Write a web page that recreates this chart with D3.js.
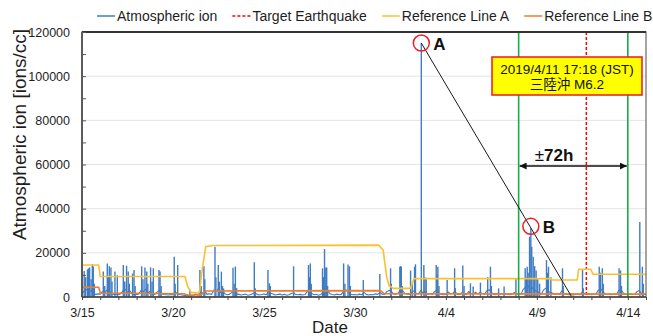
<!DOCTYPE html>
<html>
<head>
<meta charset="utf-8">
<script src="https://cdn.jsdelivr.net/npm/d3@7/dist/d3.min.js"></script>
<style>
  html, body { margin: 0; padding: 0; background: #fff; }
  svg { display: block; font-family: "Liberation Sans", Arial, sans-serif; }
</style>
</head>
<body>
<svg id="chart" width="653" height="336"></svg>
<script>
// Atmospheric ion record, 2019/3/15 - 4/15, with the 4/11 Sanriku-oki M6.2 marker.
// Time is in days since 3/15 00:00 JST.

const xTickDays = [0, 5, 10, 15, 20, 25, 30];
const xTickLabels = ['3/15', '3/20', '3/25', '3/30', '4/4', '4/9', '4/14'];
const yTicks = [0, 20000, 40000, 60000, 80000, 100000, 120000];

// background level, one reading every 3 hours (8 per day)
const ION_BASE_STEP = 0.125;
const ionBase = [
  1800, 2600, 3400, 2200, 3000, 1500, 1200, 1400,
  1300, 2400, 1800, 3200, 2500, 1600, 1100, 1300,
  1000, 1500, 2800, 3500, 2200, 2900, 1400, 1200,
  1100, 1400, 3000, 2400, 3600, 1800, 2600, 1300,
  1200, 2200, 3100, 1500, 1100, 1000, 900, 1100,
  1000, 2400, 1300, 1100, 900, 700, 800, 600,
  500, 700, 1400, 900, 2300, 1600, 2800, 1200,
  1500, 1200, 3200, 2600, 3800, 1900, 2400, 1400,
  1000, 1300, 2200, 3000, 1400, 1200, 900, 1100,
  1300, 800, 1000, 1500, 2000, 1200, 900, 1100,
  1400, 1000, 2500, 1800, 1300, 900, 1100, 1300,
  900, 1200, 800, 1000, 1600, 1900, 1100, 1000,
  1200, 900, 1100, 2400, 3000, 1600, 1000, 1200,
  800, 1100, 2200, 3600, 2800, 1500, 1100, 900,
  1300, 1000, 1200, 2500, 3200, 2700, 1400, 1000,
  1100, 900, 1300, 1000, 2100, 1200, 900, 1100,
  1000, 1400, 1200, 2000, 1300, 1100, 2400, 3000,
  2600, 1400, 1200, 1800, 3200, 2900, 1600, 1300,
  1200, 2200, 2800, 1500, 1400, 3000, 1800, 2600,
  1300, 1500, 1100, 2400, 3100, 1700, 1200, 1000,
  1100, 2300, 1400, 1600, 2600, 1200, 1100, 1900,
  1300, 1000, 2500, 1700, 1200, 2200, 1400, 2000,
  1600, 1200, 2800, 3300, 2100, 1200, 1000, 1800,
  1200, 1600, 1100, 1400, 1000, 1300, 2000, 1500,
  1100, 1300, 3400, 4500, 5200, 3800, 4200, 3000,
  2600, 1800, 1500, 3200, 4000, 2400, 2200, 1700,
  1200, 1500, 1100, 2800, 1600, 1300, 1000, 1200,
  900, 1100, 1400, 1000, 2200, 1600, 1200, 1300,
  1000, 1200, 1500, 3000, 3800, 2600, 1400, 1100,
  1200, 1000, 1300, 1100, 2900, 3400, 1800, 1200,
  1000, 1400, 1200, 1100, 2400, 3000, 1600, 1300,
  1200
];

// short bursts [day, peak ions/cc]
const ionSpikes = [
  [0.12, 11800], [0.2, 9000], [0.3, 12500], [0.36, 13000], [0.42, 13400], [0.5, 8000],
  [0.57, 14800], [0.62, 13800], [0.68, 6000],
  [1.17, 11500], [1.25, 5000], [1.39, 15200], [1.45, 9000], [1.5, 13900], [1.59, 13400], [1.65, 7000],
  [1.81, 11500], [1.94, 9800],
  [2.27, 14500], [2.35, 7000], [2.45, 14200], [2.54, 11500], [2.6, 6000],
  [2.78, 10600], [2.86, 12200], [2.92, 5000],
  [3.28, 13900], [3.35, 8000], [3.46, 13400], [3.56, 11500], [3.62, 6000],
  [3.77, 13400], [3.85, 7000], [3.92, 13000],
  [4.23, 12200], [4.29, 11500], [4.35, 5000],
  [5.07, 18200], [5.12, 6000], [5.26, 14500], [5.93, 3200],
  [6.48, 12200], [6.55, 5000], [6.7, 13900], [6.75, 8000],
  [7.31, 22800], [7.36, 9000], [7.49, 14500], [7.55, 7000], [7.66, 11500], [7.72, 5000], [7.78, 3900],
  [8.3, 13300], [8.36, 6000], [8.43, 13800], [8.5, 4000],
  [9.47, 15700], [9.52, 4000],
  [10.22, 12200], [10.3, 6200], [10.35, 5000],
  [11.63, 13900],
  [12.45, 14500], [12.5, 9000], [12.55, 15200], [12.6, 6000],
  [13.22, 13000], [13.27, 9000], [13.33, 21700], [13.4, 13400], [13.45, 13400], [13.5, 5000],
  [14.38, 15200], [14.45, 6000], [14.62, 14700], [14.7, 13900], [14.75, 5000],
  [15.46, 7700], [16.37, 10400],
  [16.96, 13000], [17.0, 6000],
  [17.47, 13700], [17.51, 14000], [17.55, 13700], [17.6, 5000],
  [18.06, 12000], [18.15, 6000], [18.28, 13700], [18.33, 14800],
  [18.65, 115000],
  [18.79, 14500], [18.85, 9000], [18.92, 8000],
  [19.47, 14500], [19.52, 10000], [19.56, 13700], [19.62, 5000],
  [20.07, 7700], [20.48, 13000], [20.52, 4000], [20.93, 14300], [21.0, 5000],
  [21.35, 6200], [21.5, 4700], [21.9, 6500],
  [22.3, 9000], [22.45, 13700], [22.5, 5000], [22.9, 3900], [23.2, 4700],
  [23.85, 8400],
  [24.36, 13000], [24.42, 9000], [24.47, 13700], [24.52, 11000], [24.6, 27300], [24.67, 31100],
  [24.72, 22800], [24.8, 18200], [24.88, 14000], [24.96, 12000], [25.05, 8000], [25.15, 6000],
  [25.53, 16700], [25.58, 11000], [25.64, 13700], [25.77, 9000],
  [26.41, 13000], [26.45, 5000],
  [27.51, 12200], [27.55, 4000],
  [28.43, 13700], [28.5, 11000], [28.6, 13000], [28.65, 6000],
  [29.52, 13000], [29.6, 12000], [29.65, 5000],
  [30.66, 34000], [30.8, 13700], [30.85, 6000]
];

const refLineA = [
  [0, 14500], [0.92, 14500], [1.0, 9300], [5.66, 9300], [5.8, 5000], [6.0, 2000], [6.45, 2000],
  [6.6, 12000], [6.8, 22800], [7.2, 23300], [16.3, 23500], [16.55, 21300], [16.75, 9000],
  [16.87, 5200], [17.1, 3900], [18.05, 3900], [18.25, 8300], [25.75, 8300], [25.85, 7700],
  [27.22, 7700], [27.3, 12600], [27.95, 12600], [28.1, 10300], [31, 10300]
];

const refLineB = [
  [0, 4400], [0.92, 4400], [1.0, 1800], [5.6, 1500], [5.8, 900], [6.55, 900], [6.75, 2700],
  [16.4, 2900], [16.6, 1500], [31, 1300]
];

const quakeDay = 27 + (17 + 18 / 60) / 24;   // 2019/4/11 17:18 JST
const windowDays = [24, 30];                  // ±72h window as drawn
const pointA = [18.65, 115000];
const pointB = [24.67, 32000];
const trendEnd = [26.92, 0];

const COLORS = {
  ion: '#3f7cc2',
  quake: '#ff0000',
  refA: '#fbc02d',
  refB: '#ed7d31',
  window: '#1aab4b',
  text: '#1e1e1e',
};

const svg = d3.select('#chart');
const plot = { left: 82, right: 646, top: 32, bottom: 297 };

const x = d3.scaleLinear().domain([0, 31]).range([plot.left, plot.right]);
const y = d3.scaleLinear().domain([0, 120000]).range([plot.bottom, plot.top]);

// gridlines
svg.append('g').selectAll('line')
  .data(yTicks.slice(1))
  .enter().append('line')
  .attr('x1', plot.left).attr('x2', plot.right)
  .attr('y1', (d) => y(d)).attr('y2', (d) => y(d))
  .attr('stroke', '#e4e4e4').attr('stroke-width', 1);

const clipId = 'plot-clip';
svg.append('defs').append('clipPath').attr('id', clipId)
  .append('rect')
  .attr('x', plot.left).attr('y', plot.top)
  .attr('width', plot.right - plot.left).attr('height', plot.bottom - plot.top);

const dataG = svg.append('g').attr('clip-path', `url(#${clipId})`);

// ion series: background trace + burst spikes
const basePts = ionBase.map((v, i) => [i * ION_BASE_STEP, v]);
const line = d3.line().x((d) => x(d[0])).y((d) => y(d[1]));

dataG.append('path')
  .datum(basePts)
  .attr('d', line)
  .attr('fill', 'none')
  .attr('stroke', COLORS.ion)
  .attr('stroke-width', 1.1)
  .attr('stroke-linejoin', 'round');

dataG.append('g').selectAll('line')
  .data(ionSpikes)
  .enter().append('line')
  .attr('x1', (d) => x(d[0])).attr('x2', (d) => x(d[0]))
  .attr('y1', y(0)).attr('y2', (d) => y(d[1]))
  .attr('stroke', COLORS.ion)
  .attr('stroke-width', 1.4);

// target earthquake + window
dataG.append('line')
  .attr('x1', x(quakeDay)).attr('x2', x(quakeDay))
  .attr('y1', plot.top).attr('y2', plot.bottom)
  .attr('stroke', COLORS.quake).attr('stroke-width', 1.5)
  .attr('stroke-dasharray', '3,2');

dataG.append('path')
  .datum(refLineA)
  .attr('d', line)
  .attr('fill', 'none')
  .attr('stroke', COLORS.refA)
  .attr('stroke-width', 1.6)
  .attr('stroke-linejoin', 'round');

dataG.append('path')
  .datum(refLineB)
  .attr('d', line)
  .attr('fill', 'none')
  .attr('stroke', COLORS.refB)
  .attr('stroke-width', 1.6)
  .attr('stroke-linejoin', 'round');

dataG.append('g').selectAll('line')
  .data(windowDays)
  .enter().append('line')
  .attr('x1', (d) => x(d)).attr('x2', (d) => x(d))
  .attr('y1', plot.top).attr('y2', plot.bottom)
  .attr('stroke', COLORS.window).attr('stroke-width', 1.6);

// trend line A -> B -> zero
dataG.append('line')
  .attr('x1', x(pointA[0])).attr('y1', y(pointA[1]))
  .attr('x2', x(trendEnd[0])).attr('y2', y(trendEnd[1]))
  .attr('stroke', '#1a1a1a').attr('stroke-width', 1);

// frame and axes
svg.append('rect')
  .attr('x', plot.left).attr('y', plot.top)
  .attr('width', plot.right - plot.left).attr('height', plot.bottom - plot.top)
  .attr('fill', 'none').attr('stroke', '#6a6a6a').attr('stroke-width', 1.2);
svg.append('line')
  .attr('x1', plot.left).attr('x2', plot.right).attr('y1', plot.top).attr('y2', plot.top)
  .attr('stroke', '#333').attr('stroke-width', 2);
svg.append('line')
  .attr('x1', plot.left).attr('x2', plot.left).attr('y1', plot.top).attr('y2', plot.bottom)
  .attr('stroke', '#444').attr('stroke-width', 1.5);
svg.append('line')
  .attr('x1', plot.left).attr('x2', plot.right).attr('y1', plot.bottom).attr('y2', plot.bottom)
  .attr('stroke', '#444').attr('stroke-width', 1.5);

// y axis: minor ticks every 10000 pointing in, labels on the majors
const yAxis = d3.axisLeft(y)
  .tickValues(d3.range(0, 120001, 10000))
  .tickSize(-4)
  .tickPadding(12)
  .tickFormat((d) => (yTicks.includes(d) ? String(d) : ''));
const yG = svg.append('g').attr('transform', `translate(${plot.left},0)`).call(yAxis);
yG.select('.domain').remove();
yG.selectAll('.tick line').attr('stroke', '#555');
yG.selectAll('.tick text')
  .attr('font-size', 12.5).attr('fill', COLORS.text)
  .attr('font-family', '"Liberation Sans", Arial, sans-serif');

// x axis: daily ticks, labels every 5 days
const xAxis = d3.axisBottom(x)
  .tickValues(d3.range(0, 32, 1))
  .tickSize(3)
  .tickPadding(8)
  .tickFormat((d) => {
    const i = xTickDays.indexOf(d);
    return i >= 0 ? xTickLabels[i] : '';
  });
const xG = svg.append('g').attr('transform', `translate(0,${plot.bottom})`).call(xAxis);
xG.select('.domain').remove();
xG.selectAll('.tick line').attr('stroke', '#444');
xG.selectAll('.tick text')
  .attr('font-size', 12.5).attr('fill', COLORS.text)
  .attr('font-family', '"Liberation Sans", Arial, sans-serif');

// axis titles
svg.append('text')
  .attr('transform', `translate(26,${(plot.top + plot.bottom) / 2 - 30}) rotate(-90)`)
  .attr('text-anchor', 'middle')
  .attr('font-size', 19)
  .attr('fill', COLORS.text)
  .text('Atmospheric ion [ions/cc]');

svg.append('text')
  .attr('x', 330).attr('y', 333)
  .attr('text-anchor', 'middle')
  .attr('font-size', 17)
  .attr('fill', COLORS.text)
  .text('Date');

// legend
const legendItems = [
  { label: 'Atmospheric ion', color: COLORS.ion, dash: null },
  { label: 'Target Earthquake', color: COLORS.quake, dash: '3,2' },
  { label: 'Reference Line A', color: COLORS.refA, dash: null },
  { label: 'Reference Line B', color: COLORS.refB, dash: null },
];
const legend = svg.append('g').attr('transform', 'translate(97,16)');
let lx = 0;
legendItems.forEach((item) => {
  legend.append('line')
    .attr('x1', lx).attr('x2', lx + 18).attr('y1', 0).attr('y2', 0)
    .attr('stroke', item.color).attr('stroke-width', 1.5)
    .attr('stroke-dasharray', item.dash);
  const t = legend.append('text')
    .attr('x', lx + 20).attr('y', 5)
    .attr('font-size', 14)
    .attr('fill', COLORS.text)
    .text(item.label);
  lx += 20 + t.node().getComputedTextLength() + 15;
});

// markers A / B
const markers = [
  { p: pointA, label: 'A' },
  { p: pointB, label: 'B' },
];
markers.forEach((m) => {
  svg.append('circle')
    .attr('cx', x(m.p[0])).attr('cy', y(m.p[1]))
    .attr('r', 8)
    .attr('fill', 'none').attr('stroke', '#e8202a').attr('stroke-width', 1.5);
  svg.append('text')
    .attr('x', x(m.p[0]) + 12).attr('y', y(m.p[1]) + 7)
    .attr('font-size', 17).attr('font-weight', 'bold')
    .attr('fill', '#111')
    .text(m.label);
});

// ±72h arrow between the window lines
const arrowY = 166;
const defs = svg.select('defs');
['start', 'end'].forEach((k) => {
  defs.append('marker')
    .attr('id', 'arrow-' + k)
    .attr('viewBox', '0 0 10 10')
    .attr('refX', k === 'end' ? 10 : 0).attr('refY', 5)
    .attr('markerWidth', 7).attr('markerHeight', 7)
    .attr('markerUnits', 'userSpaceOnUse')
    .attr('orient', 'auto')
    .append('path')
    .attr('d', k === 'end' ? 'M0,0 L10,5 L0,10 z' : 'M10,0 L0,5 L10,10 z')
    .attr('fill', '#111');
});
svg.append('line')
  .attr('x1', x(windowDays[0]) + 1).attr('x2', x(windowDays[1]) - 1)
  .attr('y1', arrowY).attr('y2', arrowY)
  .attr('stroke', '#111').attr('stroke-width', 1.5)
  .attr('marker-start', 'url(#arrow-start)')
  .attr('marker-end', 'url(#arrow-end)');
const arrowText = svg.append('text')
  .attr('x', 554).attr('y', 161)
  .attr('text-anchor', 'middle')
  .attr('font-size', 17)
  .attr('fill', '#111');
arrowText.append('tspan').attr('font-weight', 'normal').text('±');
arrowText.append('tspan').attr('font-weight', 'bold').text('72h');

// event callout
const box = { x: 492, y: 57, w: 150, h: 38 };
svg.append('rect')
  .attr('x', box.x).attr('y', box.y).attr('width', box.w).attr('height', box.h)
  .attr('fill', '#ffff00').attr('stroke', '#f01818').attr('stroke-width', 1.5);
svg.append('text')
  .attr('x', box.x + box.w / 2).attr('y', box.y + 17)
  .attr('text-anchor', 'middle').attr('font-size', 13.5).attr('fill', '#111')
  .text('2019/4/11 17:18 (JST)');
svg.append('text')
  .attr('x', box.x + box.w / 2).attr('y', box.y + 32)
  .attr('text-anchor', 'middle').attr('font-size', 13.5).attr('fill', '#111')
  .attr('font-family', '"Liberation Sans", "Noto Sans CJK JP", sans-serif')
  .text('三陸沖 M6.2');
</script>
</body>
</html>
